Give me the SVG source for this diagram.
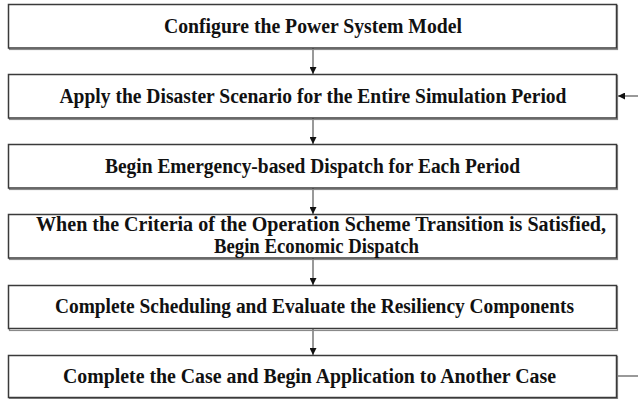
<svg xmlns="http://www.w3.org/2000/svg" width="638" height="399" viewBox="0 0 638 399">
  <defs>
    <marker id="head" viewBox="0 0 10 10" refX="10" refY="5" markerWidth="7" markerHeight="7" markerUnits="userSpaceOnUse" orient="auto">
      <path d="M0,0 L10,5 L0,10 Z" fill="#111"/>
    </marker>
    <style>
      .box { fill: #fff; stroke: #3a3a3a; stroke-width: 1.5; }
      .shade { fill: none; stroke: #8a8a8a; stroke-width: 1.2; }
      .lbl { font-family: "Liberation Serif", Tinos, "Noto Serif", "DejaVu Serif", FreeSerif, "Times New Roman", Times, serif; font-weight: bold; font-size: 20px; fill: #111; text-anchor: middle; }
      .link { stroke: #555; stroke-width: 1.2; fill: none; }
    </style>
  </defs>
  <rect width="638" height="399" fill="#fff"/>

  <g id="connectors">
    <line class="link" x1="313" y1="48" x2="313" y2="74" marker-end="url(#head)"/>
    <line class="link" x1="313" y1="118" x2="313" y2="144" marker-end="url(#head)"/>
    <line class="link" x1="313" y1="188" x2="313" y2="214" marker-end="url(#head)"/>
    <line class="link" x1="313" y1="258" x2="313" y2="285" marker-end="url(#head)"/>
    <line class="link" x1="313" y1="328" x2="313" y2="355" marker-end="url(#head)"/>
    <line class="link" x1="617" y1="376" x2="638" y2="376"/>
    <line class="link" x1="638" y1="96" x2="618" y2="96" marker-end="url(#head)"/>
  </g>

  <g id="configure-model">
    <rect class="shade" x="9.5" y="5.5" width="608" height="44"/>
    <rect class="box" x="8.5" y="4.5" width="608" height="43.5"/>
    <text class="lbl" x="313" y="33" textLength="298" lengthAdjust="spacingAndGlyphs">Configure the Power System Model</text>
  </g>

  <g id="apply-scenario">
    <rect class="shade" x="9.5" y="75.5" width="608" height="44"/>
    <rect class="box" x="8.5" y="74.5" width="608" height="43.5"/>
    <text class="lbl" x="313" y="103" textLength="507" lengthAdjust="spacingAndGlyphs">Apply the Disaster Scenario for the Entire Simulation Period</text>
  </g>

  <g id="emergency-dispatch">
    <rect class="shade" x="9.5" y="145.5" width="608" height="44"/>
    <rect class="box" x="8.5" y="144.5" width="608" height="43.5"/>
    <text class="lbl" x="312.5" y="173" textLength="415" lengthAdjust="spacingAndGlyphs">Begin Emergency-based Dispatch for Each Period</text>
  </g>

  <g id="economic-dispatch">
    <rect class="shade" x="9.5" y="215.5" width="608" height="44"/>
    <rect class="box" x="8.5" y="214.5" width="608" height="43.5"/>
    <text class="lbl" x="321" y="231" textLength="570" lengthAdjust="spacingAndGlyphs">When the Criteria of the Operation Scheme Transition is Satisfied,</text>
    <text class="lbl" x="316.5" y="253" textLength="205" lengthAdjust="spacingAndGlyphs">Begin Economic Dispatch</text>
  </g>

  <g id="evaluate-resiliency">
    <rect class="shade" x="9.5" y="286.5" width="608" height="44"/>
    <rect class="box" x="8.5" y="285.5" width="608" height="43"/>
    <text class="lbl" x="314.5" y="313" textLength="519" lengthAdjust="spacingAndGlyphs">Complete Scheduling and Evaluate the Resiliency Components</text>
  </g>

  <g id="next-case">
    <rect class="shade" x="9.5" y="356.5" width="608" height="42"/>
    <rect class="box" x="8.5" y="355.5" width="608" height="42"/>
    <text class="lbl" x="309.5" y="383" textLength="493" lengthAdjust="spacingAndGlyphs">Complete the Case and Begin Application to Another Case</text>
  </g>
</svg>
